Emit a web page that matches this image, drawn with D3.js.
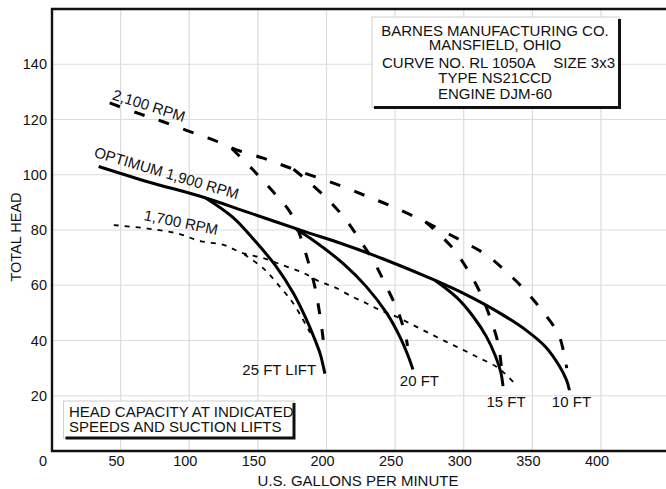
<!DOCTYPE html>
<html>
<head>
<meta charset="utf-8">
<script src="https://cdn.jsdelivr.net/npm/d3@7/dist/d3.min.js"></script>
<style>
  body { margin: 0; background: #fff; }
  svg text { font-family: "Liberation Sans", Arial, Helvetica, sans-serif; fill: #111; }
</style>
</head>
<body>
<div id="chart"></div>
<script>
///// DATA (gpm, total head in ft) /////
const xTicks = [0, 50, 100, 150, 200, 250, 300, 350, 400];
const yTicks = [20, 40, 60, 80, 100, 120, 140];

// optimum 1,900 rpm, runs out as the 10 ft lift curve
const rpm1900 = [[34, 103], [71, 97.3], [108, 92.2], [144, 86.2], [188, 78.8], [205, 76.1], [241, 69.6],
  [278, 62], [302, 56.5], [326, 50], [346, 43.5], [360, 37.5], [370, 30.5], [375, 25.5], [377, 22]];
const lift25 = [[112, 91.6], [132, 84.5], [148, 76], [163, 67], [176, 57], [185, 48], [191, 41],
  [195.5, 35], [198.8, 28]];
const lift20 = [[178, 80.2], [190, 76.4], [212, 67.9], [229, 59.5], [244, 49.8], [253.4, 41.4],
  [259, 35], [263, 29.5]];
const lift15 = [[279, 61.8], [295, 55.5], [307, 48.6], [316.5, 41.4], [323, 34.5], [327, 28.5], [328.6, 23.5]];

// 2,100 rpm
const rpm2100 = [[42, 126], [63, 122.2], [81, 119.2], [100.5, 115.6], [117.5, 112.6], [134.5, 109],
  [154, 106], [171, 102.9], [191.5, 99.3], [211, 95.9], [229, 92.3], [245, 89.1], [263, 85.1],
  [281, 80.6], [299.5, 75.8], [316.5, 71], [331, 64.9], [345.6, 57.7], [357.7, 50.4], [368.7, 42.6],
  [373, 35.5], [375, 30]];
const rpm2100lift25 = [[131, 109.5], [146.6, 101.7], [161, 93.9], [173.3, 86.6], [180.6, 78.2],
  [186.5, 68.8], [191.5, 59.5], [195, 49.8], [197.6, 40.2], [198, 37]];
const rpm2100lift20 = [[176, 102], [185.5, 98.1], [200, 91.5], [213.4, 84.2], [224.3, 76.4],
  [235.2, 67.9], [243.7, 59.5], [252.2, 50.4], [257.8, 41.4], [259, 38]];
const rpm2100lift15 = [[272, 83], [291, 74], [303, 65.5], [311.6, 57.7], [319, 48.6], [325, 39],
  [327.5, 30], [328, 27]];

// 1,700 rpm
const rpm1700 = [[45, 81.8], [70, 80.5], [91, 78.8], [108, 76], [125, 74.6], [139, 71.6], [154, 69.8],
  [168, 67.3], [183, 64.5], [195, 61.3], [205, 59.5], [219, 55.8], [229, 53.5], [239, 51], [251, 48.6],
  [263, 45.6], [275, 42.6], [287, 39.6], [299.5, 36.6], [311.6, 33.6], [323.8, 30.5], [330, 28], [336, 25]];
const rpm1700lift25 = [[140, 71.2], [154, 66.1], [166, 59.5], [175.7, 53.5], [183, 47.4], [188, 43], [192, 40]];

const titleLines = ["BARNES MANUFACTURING CO.", "MANSFIELD, OHIO", "", "TYPE NS21CCD", "ENGINE DJM-60"];
const noteLines = ["HEAD CAPACITY AT INDICATED", "SPEEDS AND SUCTION LIFTS"];

///// CHART /////
const width = 666;
const height = 489;

const x = d3.scaleLinear().domain([0, 400]).range([52, 601]);
const y = d3.scaleLinear().domain([0, 160]).range([451, 9]);

const svg = d3.select("#chart").append("svg")
  .attr("width", width)
  .attr("height", height)
  .attr("viewBox", [0, 0, width, height]);

// grid
const grid = svg.append("g").attr("stroke", "#dcdcdc").attr("stroke-width", 1.2);
grid.selectAll("line.v")
  .data(xTicks.slice(1).concat([450]))
  .join("line")
  .attr("class", "v")
  .attr("x1", d => x(d)).attr("x2", d => x(d))
  .attr("y1", y(160)).attr("y2", y(0));
grid.selectAll("line.h")
  .data(yTicks)
  .join("line")
  .attr("class", "h")
  .attr("x1", x(0)).attr("x2", width)
  .attr("y1", d => y(d)).attr("y2", d => y(d));

// frame: left, bottom, top
const frame = svg.append("g").attr("stroke", "#111").attr("stroke-width", 2.4);
frame.append("line").attr("x1", x(0)).attr("x2", x(0)).attr("y1", y(160) - 1).attr("y2", y(0) + 1);
frame.append("line").attr("x1", x(0) - 1).attr("x2", width).attr("y1", y(0)).attr("y2", y(0));
frame.append("line").attr("x1", x(0) - 1).attr("x2", width).attr("y1", y(160)).attr("y2", y(160));

// tick labels
svg.append("g")
  .style("font-size", "14.5px")
  .attr("text-anchor", "middle")
  .selectAll("text")
  .data(xTicks)
  .join("text")
  .attr("x", d => d === 0 ? x(d) - 9 : x(d) - 4)
  .attr("y", 466)
  .text(d => d);

svg.append("g")
  .style("font-size", "14.5px")
  .attr("text-anchor", "end")
  .selectAll("text")
  .data(yTicks)
  .join("text")
  .attr("x", 47)
  .attr("y", d => y(d))
  .attr("dy", "0.36em")
  .text(d => d);

// axis titles
svg.append("text")
  .attr("x", 358).attr("y", 486)
  .attr("text-anchor", "middle")
  .style("font-size", "15px")
  .text("U.S. GALLONS PER MINUTE");

svg.append("text")
  .attr("transform", "translate(21,237) rotate(-90)")
  .attr("text-anchor", "middle")
  .style("font-size", "14.5px")
  .text("TOTAL HEAD");

// curves
const line = d3.line()
  .x(d => x(d[0]))
  .y(d => y(d[1]))
  .curve(d3.curveCatmullRom.alpha(0.5));

const curves = [
  { data: rpm1700, w: 1.8, dash: "5,6" },
  { data: rpm1700lift25, w: 1.8, dash: "5,6" },
  { data: rpm2100, w: 3, dash: "11,15" },
  { data: rpm2100lift25, w: 3, dash: "11,15" },
  { data: rpm2100lift20, w: 3, dash: "11,15" },
  { data: rpm2100lift15, w: 3, dash: "11,15" },
  { data: rpm1900, w: 3, dash: null },
  { data: lift25, w: 3, dash: null },
  { data: lift20, w: 3, dash: null },
  { data: lift15, w: 3, dash: null }
];

svg.append("g")
  .attr("fill", "none")
  .attr("stroke", "#000")
  .selectAll("path")
  .data(curves)
  .join("path")
  .attr("d", d => line(d.data))
  .attr("stroke-width", d => d.w)
  .attr("stroke-dasharray", d => d.dash);

// curve labels
const curveLabels = [
  { text: "2,100 RPM", at: [43.4, 127.3], rot: 17.5, anchor: "start" },
  { text: "OPTIMUM 1,900 RPM", at: [30, 106.5], rot: 16.5, anchor: "start" },
  { text: "1,700 RPM", at: [66.5, 83.6], rot: 11.5, anchor: "start" },
  { text: "25 FT LIFT", at: [192.5, 27.5], rot: 0, anchor: "end" },
  { text: "20 FT", at: [253.4, 23.5], rot: 0, anchor: "start" },
  { text: "15 FT", at: [316.5, 15.9], rot: 0, anchor: "start" },
  { text: "10 FT", at: [364.2, 15.9], rot: 0, anchor: "start" }
];

svg.append("g")
  .style("font-size", "15px")
  .selectAll("text")
  .data(curveLabels)
  .join("text")
  .attr("text-anchor", d => d.anchor)
  .attr("transform", d => `translate(${x(d.at[0])},${y(d.at[1])}) rotate(${d.rot})`)
  .text(d => d.text);

// boxes with a heavy shadow on the right and bottom
function shadowBox(x0, y0, x1, y1) {
  const g = svg.append("g");
  g.append("rect")
    .attr("x", x0).attr("y", y0)
    .attr("width", x1 - x0).attr("height", y1 - y0)
    .attr("fill", "#fff")
    .attr("stroke", "#cfcfcf")
    .attr("stroke-width", 1);
  g.append("path")
    .attr("d", `M${x0 + 2},${y1} H${x1} V${y0 + 2}`)
    .attr("fill", "none")
    .attr("stroke", "#111")
    .attr("stroke-width", 3);
  return g;
}

const tb = shadowBox(372, 17, 619.5, 107.5);
const tbY = [36, 50, 67.5, 83, 99];
tb.selectAll("text.t")
  .data(titleLines)
  .join("text")
  .attr("class", "t")
  .attr("x", 495)
  .attr("y", (d, i) => tbY[i])
  .attr("text-anchor", "middle")
  .style("font-size", "15px")
  .text(d => d);
tb.append("text").attr("x", 382).attr("y", tbY[2]).style("font-size", "15px").text("CURVE NO. RL 1050A");
tb.append("text").attr("x", 615).attr("y", tbY[2]).attr("text-anchor", "end").style("font-size", "15px").text("SIZE 3x3");

const nb = shadowBox(63.5, 401, 294, 438);
nb.selectAll("text")
  .data(noteLines)
  .join("text")
  .attr("x", 69)
  .attr("y", (d, i) => 417 + i * 15)
  .style("font-size", "15px")
  .text(d => d);
</script>
</body>
</html>
